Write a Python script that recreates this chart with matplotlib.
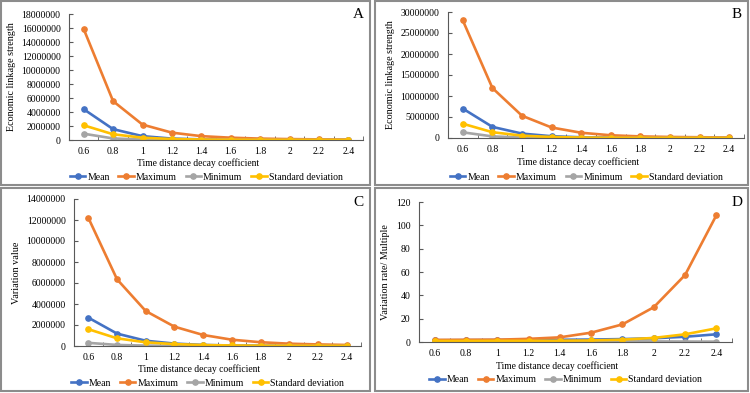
import matplotlib
matplotlib.use("Agg")
import matplotlib.pyplot as plt
from matplotlib.patches import Rectangle

plt.rcParams["font.family"] = ["Liberation Serif", "DejaVu Serif"]

# Data
coef = ["0.6", "0.8", "1", "1.2", "1.4", "1.6", "1.8", "2", "2.2", "2.4"]
series_names = ["Mean", "Maximum", "Minimum", "Standard deviation"]
colors = ["#4472C4", "#ED7D31", "#A5A5A5", "#FFC000"]

a_mean = [4400000, 1550000, 550000, 200000, 90000, 50000, 30000, 20000, 15000, 10000]
a_max = [15850000, 5550000, 2200000, 1050000, 550000, 330000, 200000, 130000, 90000, 60000]
a_min = [900000, 220000, 60000, 20000, 10000, 5000, 3000, 2000, 1000, 1000]
a_sd = [2100000, 820000, 330000, 140000, 70000, 40000, 25000, 15000, 10000, 8000]

b_mean = [7000000, 2650000, 1050000, 420000, 170000, 80000, 45000, 30000, 20000, 15000]
b_max = [28000000, 11900000, 5300000, 2500000, 1250000, 650000, 380000, 250000, 180000, 120000]
b_min = [1350000, 380000, 110000, 35000, 12000, 5000, 3000, 2000, 1000, 1000]
b_sd = [3400000, 1380000, 560000, 240000, 100000, 50000, 30000, 20000, 15000, 10000]

c_mean = [2700000, 1180000, 500000, 230000, 100000, 50000, 30000, 20000, 15000, 10000]
c_max = [12200000, 6350000, 3330000, 1840000, 1050000, 600000, 360000, 220000, 150000, 100000]
c_min = [300000, 100000, 40000, 15000, 6000, 3000, 2000, 1000, 1000, 1000]
c_sd = [1600000, 730000, 350000, 180000, 90000, 50000, 30000, 20000, 15000, 10000]

d_mean = [1.5, 1.6, 1.7, 1.8, 1.9, 2.1, 2.5, 3.2, 4.5, 6.6]
d_max = [1.8, 1.9, 2.0, 2.7, 4.0, 8.0, 15.1, 29.8, 57.4, 108.6]
d_min = [0.3, 0.3, 0.4, 0.4, 0.5, 0.5, 0.6, 0.5, 0.4, 0.3]
d_sd = [0.9, 0.9, 1.0, 1.0, 1.1, 1.3, 2.0, 3.5, 6.6, 11.7]

W, H = 750, 393
fig = plt.figure(figsize=(7.5, 3.93), dpi=100)

# panel: (frame box px, axes box px, data, ylim, ystep, ylabel, letter, letter pos px, xlabel y px, legend y px)
panels = [
    ((1, 1, 370, 185), (69, 14, 363, 140), [a_mean, a_max, a_min, a_sd], 18000000, 2000000,
     "Economic linkage strength", "A", (358, 15), 163, 177),
    ((375, 1, 748, 185), (448, 12, 744, 138), [b_mean, b_max, b_min, b_sd], 30000000, 5000000,
     "Economic linkage strength", "B", (737, 14), 162, 177),
    ((1, 188, 370, 391), (74, 199, 361, 346), [c_mean, c_max, c_min, c_sd], 14000000, 2000000,
     "Variation value", "C", (358, 203), 369, 383),
    ((375, 188, 748, 391), (419, 202, 732, 342), [d_mean, d_max, d_min, d_sd], 120, 20,
     "Variation rate/ Multiple", "D", (737, 203), 366, 380),
]

for frame, box, data, ymax, ystep, ylabel, letter, lpos, xl_y, leg_y in panels:
    fig.patches.append(Rectangle((frame[0] / W, 1 - frame[3] / H),
                                 (frame[2] - frame[0]) / W, (frame[3] - frame[1]) / H,
                                 transform=fig.transFigure, fill=False,
                                 edgecolor="#8c8c8c", linewidth=1.5))
    ax = fig.add_axes([box[0] / W, 1 - box[3] / H, (box[2] - box[0]) / W, (box[3] - box[1]) / H])
    x = list(range(len(coef)))
    for vals, name, col in zip(data, series_names, colors):
        ax.plot(x, vals, color=col, linewidth=1.9, marker="o", markersize=3.8, label=name)
    ax.set_xlim(-0.5, len(coef) - 0.5)
    ax.set_ylim(0, ymax)
    ax.set_yticks(range(0, ymax + 1, ystep))
    ax.ticklabel_format(axis="y", style="plain", useOffset=False)
    ax.set_xticks(x)
    ax.set_xticklabels(coef)
    ax.set_xticks([i + 0.5 for i in range(-1, len(coef))], minor=True)
    ax.tick_params(axis="x", which="major", length=0, pad=5, labelsize=7)
    ax.tick_params(axis="x", which="minor", length=3, direction="in", color="#595959")
    ax.tick_params(axis="y", length=3, direction="in", pad=6, labelsize=7, color="#595959")
    ax.spines["top"].set_visible(False)
    ax.spines["right"].set_visible(False)
    ax.spines["left"].set_color("#595959")
    ax.spines["bottom"].set_color("#595959")
    ax.set_ylabel(ylabel, fontsize=7.3, labelpad=4)
    cx = (box[0] + box[2]) / 2
    fig.text(cx / W - 0.024, 1 - xl_y / H, "Time distance decay coefficient",
             ha="center", va="center", fontsize=6.9)
    fig.text(lpos[0] / W, 1 - lpos[1] / H, letter, ha="center", va="center", fontsize=11)
    ax.legend(loc="center", bbox_to_anchor=(cx / W - 0.013, 1 - leg_y / H),
              bbox_transform=fig.transFigure, ncol=4, frameon=False, fontsize=7,
              handlelength=1.6, handletextpad=0.2, columnspacing=0.9, borderpad=0)

fig.savefig("out.png", dpi=100)
